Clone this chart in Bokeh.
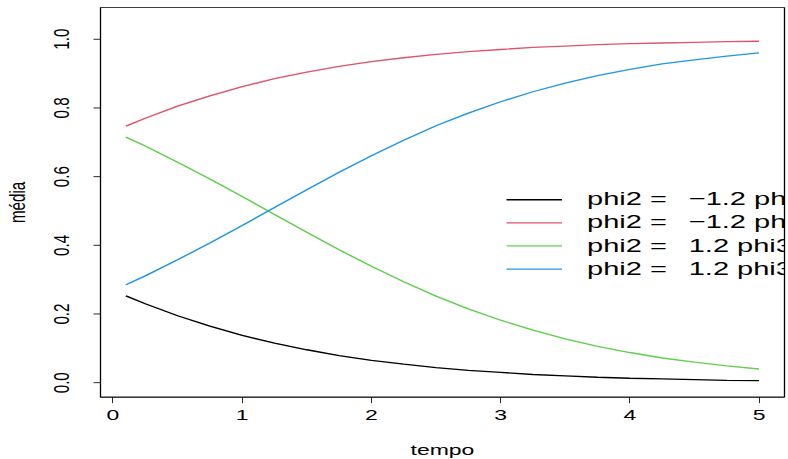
from bokeh.plotting import figure
from bokeh.models import Range1d, FixedTicker, Legend, LegendItem, Title
from bokeh.embed import file_html
from bokeh.resources import INLINE

# ---- data ----
tempo = [0.1, 0.25, 0.5, 0.75, 1.0, 1.25, 1.5, 1.75, 2.0, 2.25, 2.5,
         2.75, 3.0, 3.25, 3.5, 3.75, 4.0, 4.25, 4.5, 4.75, 5.0]
media_preto = [0.253, 0.230, 0.195, 0.165, 0.138, 0.115, 0.096, 0.079, 0.065, 0.054, 0.044,
               0.036, 0.030, 0.024, 0.020, 0.016, 0.013, 0.011, 0.009, 0.007, 0.006]
media_vermelho = [0.747, 0.770, 0.805, 0.835, 0.862, 0.885, 0.904, 0.921, 0.935, 0.946, 0.956,
                  0.964, 0.970, 0.976, 0.980, 0.984, 0.987, 0.989, 0.991, 0.993, 0.994]
media_verde = [0.715, 0.689, 0.642, 0.593, 0.542, 0.490, 0.438, 0.387, 0.339, 0.294, 0.252,
               0.215, 0.182, 0.153, 0.128, 0.106, 0.088, 0.072, 0.060, 0.049, 0.040]
media_azul = [0.285, 0.311, 0.358, 0.407, 0.458, 0.510, 0.562, 0.613, 0.661, 0.706, 0.748,
              0.785, 0.818, 0.847, 0.872, 0.894, 0.912, 0.928, 0.940, 0.951, 0.960]
GAP = "\u00a0\u00a0\u2009"
series_labels = ["phi2 =" + GAP + "\u22121.2 phi3 =" + GAP + "\u22121.2",
                 "phi2 =" + GAP + "\u22121.2 phi3 =" + GAP + "1.2",
                 "phi2 =" + GAP + "1.2 phi3 =" + GAP + "\u22121.2",
                 "phi2 =" + GAP + "1.2 phi3 =" + GAP + "1.2"]
x_ticks = [0, 1, 2, 3, 4, 5]
x_tick_labels = ["0", "1", "2", "3", "4", "5"]
y_ticks = [0.0, 0.2, 0.4, 0.6, 0.8, 1.0]
y_tick_labels = ["0.0", "0.2", "0.4", "0.6", "0.8", "1.0"]
NB = "\u00a0"
nav_text = ("\u25c2" + NB * 2 + "\u25a1" + NB * 2 + "\u25b8" + NB * 5 +
            "\u25c2" + NB * 2 + "\u29c9" + NB * 2 + "\u25b8" + NB * 3 +
            "\u25c2" + NB * 2 + "\u2261" + NB * 2 + "\u25b8" + NB * 3 +
            "\u25c2" + NB * 2 + "\u2261" + NB * 2 + "\u25b8")

# ---- styling ----
colors = ["#000000", "#DF536B", "#61D04F", "#2297E6"]
FONT = "Liberation Sans"
SQ = 0.6603           # the reference slide is squeezed vertically
W, H = 788, 700
H_CSS = int(round(H / SQ))

p = figure(width=W, height=H_CSS,
           x_range=Range1d(-0.0967, 5.197), y_range=Range1d(-0.042, 1.092),
           output_backend="svg", toolbar_location=None,
           min_border_left=100, min_border_right=4,
           min_border_top=11, min_border_bottom=98)
p.styles = {"transform": "scaleY(%.4f)" % SQ, "transform-origin": "0 0"}

p.background_fill_color = "white"
p.border_fill_color = "white"
p.outline_line_color = "black"
p.outline_line_width = 1.3
p.xgrid.visible = False
p.ygrid.visible = False

# x axis
p.xaxis.ticker = FixedTicker(ticks=x_ticks)
p.xaxis.major_label_overrides = {t: l for t, l in zip(x_ticks, x_tick_labels)}
p.xaxis.axis_label = "tempo"
p.xaxis.major_tick_out = 9
p.xaxis.major_tick_in = 0
p.xaxis.major_label_standoff = 8
p.xaxis.axis_label_standoff = 30
p.xaxis.axis_label_text_font_size = "23px"

# y axis
p.yaxis.ticker = FixedTicker(ticks=y_ticks)
p.yaxis.major_label_overrides = {t: l for t, l in zip(y_ticks, y_tick_labels)}
p.yaxis.axis_label = "média"
p.yaxis.major_tick_out = 7
p.yaxis.major_tick_in = 0
p.yaxis.major_label_orientation = "vertical"
p.yaxis.major_label_standoff = 24
p.yaxis.axis_label_standoff = 19
p.yaxis.axis_label_text_font_size = "23px"

for ax in (p.xaxis, p.yaxis):
    ax.minor_tick_line_color = None
    ax.axis_line_color = "black"
    ax.major_tick_line_color = "black"
    ax.major_label_text_font = FONT
    ax.major_label_text_font_size = "23px"
    ax.major_label_text_color = "black"
    ax.axis_label_text_font = FONT
    ax.axis_label_text_font_style = "normal"
    ax.axis_label_text_color = "black"

items = []
for ys, col, lab in zip([media_preto, media_vermelho, media_verde, media_azul],
                        colors, series_labels):
    r = p.line(tempo, ys, line_color=col, line_width=2)
    items.append(LegendItem(label=lab, renderers=[r]))

legend = Legend(items=items, location=(406, 178),
                background_fill_alpha=0, border_line_alpha=0,
                padding=0, margin=0, spacing=2,
                glyph_width=56, glyph_height=20, label_height=20,
                label_standoff=25,
                label_text_font=FONT, label_text_font_size="29px",
                label_text_color="black")
p.add_layout(legend)

# beamer navigation symbols, bottom right
nav = Title(text=nav_text, align="right", offset=16, standoff=-58,
            text_font="DejaVu Sans", text_font_size="14px",
            text_font_style="normal", text_color="#b4b4e0")
p.add_layout(nav, "below")

open("out.html", "w").write(file_html(p, INLINE))
